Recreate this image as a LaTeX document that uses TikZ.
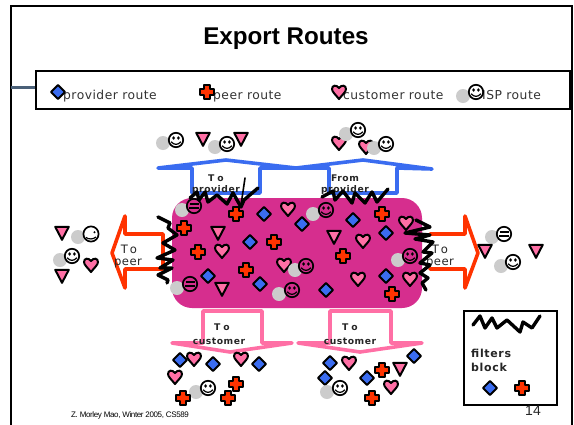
\documentclass[tikz,border=0pt]{standalone}
\usepackage{fontspec}
\setmainfont{Liberation Sans}
\newfontfamily\vfont[LetterSpace=4]{DejaVu Sans}
\newfontfamily\vbold[LetterSpace=6]{DejaVu Sans Bold}
\definecolor{provblue}{HTML}{3A6CF0}
\definecolor{peerred}{HTML}{FF3300}
\definecolor{custpink}{HTML}{FF6FA5}
\definecolor{blobpink}{HTML}{D62E8E}
\definecolor{barslate}{HTML}{4A6078}
\definecolor{ballgrey}{HTML}{CCCCCC}
\tikzset{
  x=1pt,y=-1pt,
  icon/.style={draw=black,line width=2pt,line join=round},
  filterline/.style={draw=black,line width=3.4pt,line join=round,line cap=round},
  bluearrow/.style={draw=provblue,line width=3.6pt,line join=round,line cap=round},
  redarrow/.style={draw=peerred,line width=3.6pt,line join=round,line cap=round},
  pinkarrow/.style={draw=custpink,line width=3.6pt,line join=round,line cap=round},
  smalllabel/.style={inner sep=0pt,font=\vbold\fontsize{9.2}{11}\selectfont,text=black!85},
  peerlabel/.style={inner sep=0pt,font=\vfont\fontsize{11.6}{13}\selectfont,text=black!85},
  legendlabel/.style={inner sep=0pt,anchor=base west,font=\vfont\fontsize{12.3}{14}\selectfont,text=black!80},
  blocklabel/.style={inner sep=0pt,anchor=base west,font=\vbold\fontsize{11}{12}\selectfont,text=black!85},
  pics/dia/.style={code={\path[icon,fill=provblue] (0,-7)--(7,0)--(0,7)--(-7,0)--cycle;}},
  pics/crs/.style={code={\path[icon,fill=peerred] (-3,-7)--(3,-7)--(3,-3)--(7,-3)--(7,3)--(3,3)--(3,7)--(-3,7)--(-3,3)--(-7,3)--(-7,-3)--(-3,-3)--cycle;}},
  pics/tri/.style={code={\path[icon,fill=custpink] (-6.8,-6.2)--(6.8,-6.2)--(0,6.8)--cycle;}},
  pics/hrt/.style={code={\path[icon,fill=custpink] (0,7) .. controls (-3,3) and (-7,0) .. (-7,-3) .. controls (-7,-7) and (-2.5,-7.5) .. (0,-4) .. controls (2.5,-7.5) and (7,-7) .. (7,-3) .. controls (7,0) and (3,3) .. (0,7) -- cycle;}},
  pics/ball/.style={code={\fill[ballgrey] (0,0) circle (7);}},
  pics/fca/.style={code={
    \draw[black,line width=1.7pt,fill=#1] (0,0) circle (7.2);
    \fill (-2.4,-2) ellipse (1.5 and 1.8); \fill (2.4,-2) ellipse (1.5 and 1.8);
    \draw[black,line width=1.2pt] (-4.8,1.8) .. controls (-2,5.2) and (2,5.2) .. (4.8,1.8);}},
  pics/fcb/.style={code={
    \draw[black,line width=1.7pt,fill=#1] (0,0) circle (7.2);
    \draw[black,line width=1.5pt] (-4.5,-2)--(4.5,-2) (-5,2)--(5,2);}},
  pics/fcc/.style={code={
    \draw[black,line width=1.7pt,fill=#1] (0,0) circle (7.6);
    \fill (3.5,-1.8) circle (1.2);
    \draw[black,line width=1.2pt] (-5,3.5) .. controls (-2,5.5) and (2,5.5) .. (5,3);}}
}
\newcommand{\isp}[5]{\pic at (#1,#2) {ball}; \pic at (#3,#4) {#5};}
\begin{document}
\begin{tikzpicture}
\useasboundingbox (0,0) rectangle (574,424);
\fill[white] (0,0) rectangle (574,424);
% slide frame
\begin{scope}
\clip (0,0) rectangle (574,424);
\draw[black,line width=2pt] (11,430)--(11,5.5)--(571.5,5.5)--(571.5,430);
\end{scope}
\node[inner sep=0pt,anchor=base] (title) at (286,44) {\fontsize{24.2}{26}\selectfont\bfseries Export Routes};
% legend
\draw[barslate,line width=3pt] (11,87)--(36,87);
\node[draw=black,line width=1.6pt,fill=white,inner sep=0pt,minimum width=534pt,minimum height=38pt] (legend) at (303,90) {};
\node[legendlabel] (lprov) at (63,99) {provider route};
\node[legendlabel] (lpeer) at (213,99) {peer route};
\node[legendlabel] (lcust) at (343,99) {customer route};
\node[legendlabel] (lisp) at (482,99) {ISP route};
\pic at (58,92) {dia};
\pic at (207,92) {crs};
\pic at (339,92) {hrt};
\isp{463}{96}{476}{92}{fca=none}
% arrows
\draw[bluearrow] (192,193)--(192,168)--(158,168)--(226,160)--(296,168)--(363,160)--(432,169)--(397,168)--(397,193)--(329,193)--(329,168)--(296,168)--(260,168)--(260,193)--cycle;
\draw[redarrow] (163,234)--(125,234)--(125,216)--(112,253)--(125,288)--(125,269)--(163,269)--cycle;
\draw[redarrow] (430,234)--(465,234)--(465,216)--(478,253)--(465,288)--(465,269)--(430,269);
\draw[pinkarrow] (203,311)--(262,311)--(262,343)--(292,343)--(230,352)--(172,343)--(203,343)--cycle;
\draw[pinkarrow] (330,311)--(391,311)--(391,343)--(422,343)--(360,352)--(298,343)--(330,343)--cycle;
% central block
\node[fill=blobpink,rounded corners=20pt,inner sep=0pt,minimum width=250pt,minimum height=110pt] (block) at (297,253) {};
% arrow labels
\node[smalllabel] (tp1) at (216,178) {T\hspace{3pt}o};
\node[smalllabel] (tp2) at (216,190) {provider};
\node[smalllabel] (fp1) at (345,178) {From};
\node[smalllabel] (fp2) at (345,190) {provider};
\node[smalllabel] (tc1) at (222,327) {T\hspace{3pt}o};
\node[smalllabel] (tc2) at (219,341) {customer};
\node[smalllabel] (tc3) at (350,327) {T\hspace{3pt}o};
\node[smalllabel] (tc4) at (350,341) {customer};
\node[peerlabel] (pl1) at (129,249) {T\hspace{2pt}o};
\node[peerlabel] (pl2) at (128,263) {peer};
\node[peerlabel] (pr1) at (440,249) {T\hspace{2pt}o};
\node[peerlabel] (pr2) at (440,263) {peer};
% top icons
\isp{163}{143}{176}{140}{fca=white}
\pic at (203,139) {tri};
\pic at (241,139) {tri};
\isp{215}{147}{227}{144}{fca=white}
\pic at (339,143) {hrt};
\isp{346}{134}{358}{130}{fca=white}
\pic at (366,147) {hrt};
\isp{374}{148}{386}{144}{fca=white}
% left icons
\pic at (62,233) {tri};
\isp{78}{237}{91}{234}{fcc=white}
\isp{60}{260}{72}{256}{fca=white}
\pic at (91,265) {hrt};
\pic at (62,276) {tri};
% right icons
\isp{492}{237}{504}{234}{fcb=white}
\pic at (485,251) {tri};
\pic at (536,251) {tri};
\isp{501}{266}{513}{262}{fca=white}
% icons in the block
\isp{182}{210}{194}{206}{fcb=blobpink}
\pic at (184,228) {crs};
\pic at (236,214) {crs};
\pic at (264,214) {dia};
\pic at (288,209) {hrt};
\pic at (302,224) {dia};
\pic at (218,233) {tri};
\pic at (222,251) {hrt};
\pic at (250,242) {dia};
\pic at (274,242) {crs};
\pic at (198,252) {crs};
\pic at (284,265) {hrt};
\isp{295}{270}{306}{266}{fca=blobpink}
\pic at (246,270) {crs};
\pic at (208,276) {dia};
\pic at (260,284) {dia};
\pic at (222,289) {tri};
\isp{177}{288}{190}{284}{fcb=blobpink}
\isp{279}{294}{292}{290}{fca=blobpink}
\isp{313}{214}{326}{210}{fca=blobpink}
\pic at (353,220) {dia};
\pic at (382,214) {crs};
\pic at (406,223) {hrt};
\pic at (386,233) {dia};
\pic at (334,237) {tri};
\pic at (363,241) {hrt};
\pic at (343,256) {crs};
\isp{398}{260}{410}{256}{fca=blobpink}
\pic at (358,279) {hrt};
\pic at (386,276) {dia};
\pic at (410,279) {hrt};
\pic at (326,290) {dia};
\pic at (392,294) {crs};
% bottom left icons
\pic at (180,360) {dia};
\pic at (194,359) {hrt};
\pic at (213,364) {dia};
\pic at (241,359) {hrt};
\pic at (259,364) {dia};
\pic at (175,377) {hrt};
\isp{196}{392}{208}{388}{fca=white}
\pic at (236,384) {crs};
\pic at (183,398) {crs};
\pic at (228,398) {crs};
% bottom right icons
\pic at (330,363) {dia};
\pic at (349,363) {hrt};
\pic at (414,356) {dia};
\pic at (367,378) {dia};
\pic at (400,369) {tri};
\pic at (382,370) {crs};
\pic at (325,378) {dia};
\isp{327}{392}{340}{388}{fca=white}
\pic at (391,387) {hrt};
\pic at (372,398) {crs};
% filter scribbles
\draw[filterline] (190,198)--(197,192)--(199,200)--(205,192)--(208,202)--(217,195)--(227,204)--(233,193)--(241,207)--(244,200)--(258,188);
\draw[black,line width=1.6pt,line cap=round] (241,205)--(245,178);
\draw[filterline] (322,197)--(333,191)--(335,200)--(343,191)--(352,203)--(355,193)--(365,203)--(372,192)--(377,202)--(388,189);
\draw[filterline] (158,217)--(170,223)--(168,228)--(177,235)--(163,243)--(175,250)--(157,258)--(173,260)--(160,268)--(172,268)--(158,275)--(168,280)--(167,283);
\draw[filterline] (416,220)--(430,227)--(405,233)--(430,235)--(415,239)--(433,242)--(423,252)--(432,253)--(420,263)--(430,265)--(420,273)--(428,278)--(422,283)--(426,290);
% key box
\node[draw=black,line width=1.6pt,fill=white,inner sep=0pt,minimum width=93pt,minimum height=94pt] (key) at (510.5,358) {};
\draw[filterline] (473,325)--(480,316)--(485,328)--(492,318)--(497,328)--(507,320)--(520,332)--(523,322)--(532,328)--(540,316);
\node[blocklabel] (kf) at (471,357) {filters};
\node[blocklabel] (kb) at (471,371) {block};
\pic at (490,388) {dia};
\pic at (522,388) {crs};
% footer
\node[inner sep=0pt,anchor=base west] (foot) at (71,417) {\fontsize{8}{10}\selectfont\addfontfeature{LetterSpace=-4.6} Z. Morley Mao, Winter 2005, CS589};
\node[inner sep=0pt,anchor=base] (pg) at (533,415) {\fontsize{14}{16}\selectfont\color{black!85}14};
\end{tikzpicture}
\end{document}
